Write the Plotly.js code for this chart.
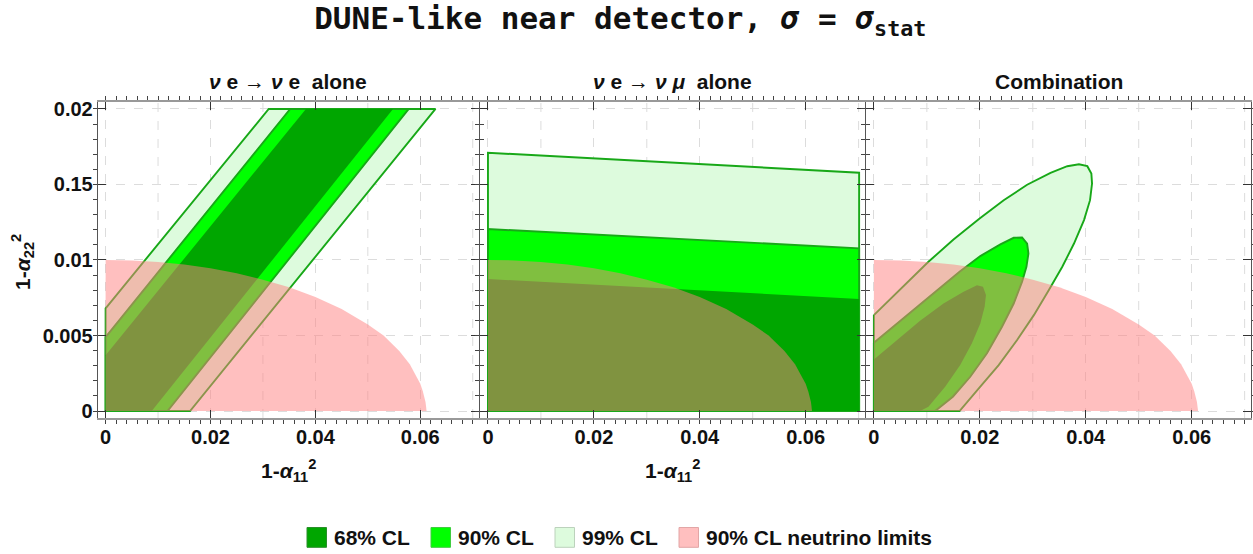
<!DOCTYPE html>
<html>
<head>
<meta charset="utf-8">
<script src="https://cdn.plot.ly/plotly-3.0.1.min.js"></script>
<style>html,body{margin:0;padding:0;background:#fff;}#chart{width:1253px;height:554px;}</style>
</head>
<body>
<div id="chart"></div>
<script>
// ---- ticks and extra grid positions ----
const xTickVals = [0, 0.02, 0.04, 0.06];
const xTickText = ['0', '0.02', '0.04', '0.06'];
const xExtraGrid = [0.01, 0.03, 0.05, 0.07];
const yTickVals = [0, 0.005, 0.01, 0.015, 0.02];
const yTickText = ['0', '0.005', '0.01', '0.15', '0.02'];

// ---- 90% CL neutrino limits (same in every panel) ----
const pinkX = [0, 0.005, 0.01, 0.015, 0.02, 0.025, 0.03, 0.035, 0.04, 0.045, 0.05, 0.053, 0.056, 0.058, 0.06, 0.0605, 0.0610, 0.0612, 0];
const pinkY = [0.01, 0.00997, 0.00987, 0.0097, 0.00946, 0.00912, 0.0087, 0.0082, 0.00755, 0.00675, 0.00573, 0.005, 0.00397, 0.0031, 0.0018, 0.0013, 0.0006, 0, 0];

// ---- panel 1: nu e -> nu e alone ----
const ee99X = [0, 0.0161, 0.0629, 0.0311, 0, 0];
const ee99Y = [0, 0, 0.02, 0.02, 0.0068, 0];
const ee90X = [0, 0.0118, 0.0578, 0.0352, 0, 0];
const ee90Y = [0, 0, 0.02, 0.02, 0.0049, 0];
const ee68X = [0, 0.0088, 0.0548, 0.0382, 0, 0];
const ee68Y = [0, 0, 0.02, 0.02, 0.0037, 0];

// ---- panel 2: nu e -> nu mu alone ----
const em99X = [0, 0.0701, 0.0701, 0, 0];
const em99Y = [0, 0, 0.01578, 0.0171, 0];
const em90X = [0, 0.0701, 0.0701, 0, 0];
const em90Y = [0, 0, 0.01077, 0.01205, 0];
const em68X = [0, 0.0701, 0.0701, 0, 0];
const em68Y = [0, 0, 0.00742, 0.00874, 0];

// ---- panel 3: combination ----
const co99X = [0, 0.00556, 0.0103, 0.01503, 0.01996, 0.02451, 0.02893, 0.03335, 0.03651, 0.03872, 0.0403, 0.04106, 0.04119, 0.04081, 0.03967, 0.03778, 0.03557, 0.03304, 0.0302, 0.02704, 0.02356, 0.02009, 0.01617, 0, 0];
const co99Y = [0.00635, 0.00827, 0.00988, 0.01136, 0.01275, 0.01396, 0.01498, 0.01577, 0.01621, 0.01634, 0.01621, 0.01573, 0.01506, 0.01396, 0.01264, 0.01109, 0.00955, 0.00801, 0.00635, 0.0047, 0.00304, 0.00161, 0, 0, 0.00635];
const co90X = [0, 0.00556, 0.01124, 0.01617, 0.02009, 0.02388, 0.0264, 0.02798, 0.02893, 0.02918, 0.0288, 0.02798, 0.0264, 0.02419, 0.02135, 0.01819, 0.01491, 0.01156, 0, 0];
const co90Y = [0.00452, 0.00613, 0.00779, 0.00922, 0.01026, 0.01103, 0.01147, 0.01149, 0.01109, 0.01043, 0.00955, 0.00856, 0.00712, 0.00558, 0.00382, 0.00227, 0.00095, 0, 0, 0.00452];
const co68X = [0, 0.0043, 0.00872, 0.01314, 0.01693, 0.01946, 0.0206, 0.02116, 0.02091, 0.02009, 0.01851, 0.0163, 0.01346, 0.0103, 0.00872, 0, 0];
const co68Y = [0.00342, 0.0047, 0.00598, 0.00712, 0.0079, 0.00832, 0.00823, 0.00768, 0.0069, 0.0058, 0.00448, 0.00304, 0.00161, 0.00029, 0, 0, 0.00342];

// ---- legend ----
const legendNames = ['68% CL', '90% CL', '99% CL', '90% CL neutrino limits'];

// styles
const C68 = '#00a600', C90 = '#00ff00', C99 = '#ddfbdd';
const PINK = 'rgba(255,128,128,0.5)';
const OUTLINE = '#18a818';
const W = 1253, H = 554;

function poly(x, y, n, fill, lineColor) {
  return {
    type: 'scatter', mode: 'lines', x: x, y: y, xaxis: 'x' + (n === 1 ? '' : n), yaxis: 'y' + (n === 1 ? '' : n),
    fill: 'toself', fillcolor: fill,
    line: lineColor ? {color: lineColor, width: 1.9} : {width: 0, color: 'rgba(0,0,0,0)'},
    showlegend: false, hoverinfo: 'skip'
  };
}

const traces = [];
const panels = [
  [ee99X, ee99Y, ee90X, ee90Y, ee68X, ee68Y],
  [em99X, em99Y, em90X, em90Y, em68X, em68Y],
  [co99X, co99Y, co90X, co90Y, co68X, co68Y]
];
panels.forEach((p, i) => {
  const n = i + 1;
  traces.push(poly(p[0], p[1], n, C99, OUTLINE));
  traces.push(poly(p[2], p[3], n, C90, OUTLINE));
  traces.push(poly(p[4], p[5], n, C68, null));
  traces.push(poly(pinkX, pinkY, n, PINK, null));
});

const tickFont = {family: 'Liberation Sans, Arial, sans-serif', size: 20, weight: 'bold', color: '#111'};
const xDomains = [[0.078, 0.3823], [0.3831, 0.6903], [0.6911, 0.9984]];
const yDomain = [0.2455, 0.8159];
const GRID = '#dcdcdc';

function xax(i) {
  return {
    domain: xDomains[i], range: [-0.0015, 0.0712], tickmode: 'array', tickvals: xTickVals, ticktext: xTickText,
    ticks: 'inside', ticklen: 8, tickcolor: '#333', tickwidth: 1, mirror: 'ticks', showline: true, linecolor: '#999', linewidth: 2,
    showgrid: true, gridcolor: GRID, griddash: 'dash', gridwidth: 1, zeroline: false,
    minor: {dtick: 0.002, tick0: 0, ticklen: 4, tickcolor: '#444', showgrid: false},
    tickfont: tickFont, anchor: 'y' + (i === 0 ? '' : i + 1), fixedrange: true
  };
}
function yax(i) {
  return {
    domain: yDomain, range: [-0.00046, 0.02046], tickmode: 'array', tickvals: yTickVals, ticktext: yTickText,
    ticks: 'inside', ticklen: 8, tickcolor: '#333', tickwidth: 1, mirror: 'ticks', showline: true, linecolor: '#555', linewidth: 1,
    showgrid: true, gridcolor: GRID, griddash: 'dash', gridwidth: 1, zeroline: false,
    minor: {dtick: 0.001, tick0: 0, ticklen: 4, tickcolor: '#444', showgrid: false},
    showticklabels: i === 0, tickfont: tickFont, anchor: 'x' + (i === 0 ? '' : i + 1), fixedrange: true
  };
}

const titleFont = {family: 'Liberation Sans, Arial, sans-serif', size: 21, weight: 'bold', color: '#111'};
const axisTitleFont = {family: 'Liberation Sans, Arial, sans-serif', size: 21, weight: 'bold', color: '#111'};
const legendFont = {family: 'Liberation Sans, Arial, sans-serif', size: 21, weight: 'bold', color: '#111'};

const annotations = [
  {text: '<i>ν</i> e → <i>ν</i> e  alone', x: 0.2302, y: 0.852},
  {text: '<i>ν</i> e → <i>ν</i> <i>μ</i>  alone', x: 0.5367, y: 0.852},
  {text: 'Combination', x: 0.8448, y: 0.852}
].map(a => Object.assign(a, {xref: 'paper', yref: 'paper', xanchor: 'center', yanchor: 'middle', showarrow: false, font: titleFont}));
annotations.push({text: '1-<i>α</i><sub>22</sub><sup>2</sup>', xref: 'paper', yref: 'paper', x: 22 / W, y: 1 - 262 / H, textangle: -90,
  xanchor: 'center', yanchor: 'middle', showarrow: false, font: axisTitleFont});
annotations.push({text: '1-<i>α</i><sub>11</sub><sup>2</sup>', xref: 'paper', yref: 'paper', x: 0.2302, y: 1 - 470 / H,
  xanchor: 'center', yanchor: 'middle', showarrow: false, font: axisTitleFont});
annotations.push({text: '1-<i>α</i><sub>11</sub><sup>2</sup>', xref: 'paper', yref: 'paper', x: 0.5367, y: 1 - 470 / H,
  xanchor: 'center', yanchor: 'middle', showarrow: false, font: axisTitleFont});

const shapes = [];
// extra dashed grid lines between the labelled x ticks
[1, 2, 3].forEach(n => {
  const sfx = n === 1 ? '' : String(n);
  xExtraGrid.forEach(gx => {
    shapes.push({type: 'line', layer: 'below', xref: 'x' + sfx, yref: 'y' + sfx + ' domain', x0: gx, x1: gx, y0: 0, y1: 1,
      line: {color: GRID, width: 1, dash: 'dash'}});
  });
});

// manual legend (squares + labels) in paper coordinates
const legendFill = [C68, C90, C99, '#ffbfbf'];
const legendBorder = ['#2a8f2a', '#40cc40', '#bcd2bc', '#e2a6a6'];
const legendLeft = [307, 431, 555, 679];
legendNames.forEach((nm, i) => {
  shapes.push({type: 'rect', xref: 'paper', yref: 'paper',
    x0: legendLeft[i] / W, x1: (legendLeft[i] + 19.5) / W, y0: 1 - 547.3 / H, y1: 1 - 527.5 / H,
    fillcolor: legendFill[i], line: {color: legendBorder[i], width: 1}});
  annotations.push({text: nm, xref: 'paper', yref: 'paper', x: (legendLeft[i] + 25) / W, y: 1 - 537.5 / H,
    xanchor: 'left', yanchor: 'middle', showarrow: false, font: legendFont});
});

const layout = {
  width: W, height: H, margin: {l: 0, r: 0, t: 0, b: 0},
  paper_bgcolor: '#fff', plot_bgcolor: '#fff', hovermode: false, showlegend: false,
  title: {text: '<b>DUNE-like near detector, <i>σ</i> = <i>σ</i><sub>stat</sub></b>',
    font: {family: 'DejaVu Sans Mono, monospace', size: 31, color: '#111'},
    x: 0.495, xanchor: 'center', y: 0.967, yanchor: 'middle', xref: 'paper', yref: 'paper'},
  xaxis: xax(0), xaxis2: xax(1), xaxis3: xax(2),
  yaxis: yax(0), yaxis2: yax(1), yaxis3: yax(2),
  annotations: annotations,
  shapes: shapes
};

Plotly.newPlot('chart', traces, layout, {displayModeBar: false, staticPlot: true});
</script>
</body>
</html>
